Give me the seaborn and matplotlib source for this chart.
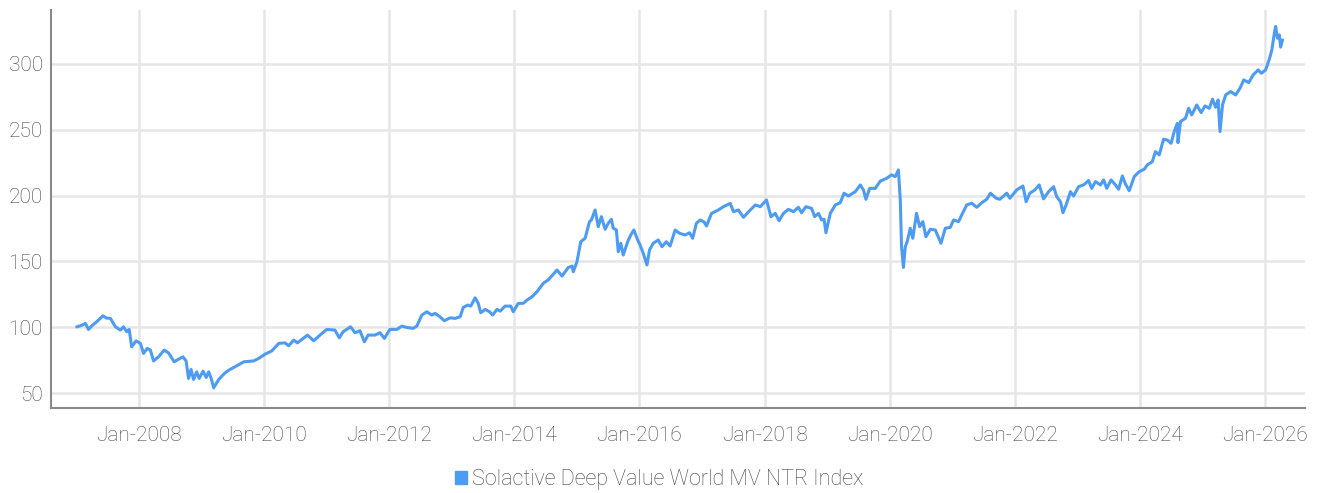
import pandas as pd
import matplotlib.pyplot as plt
import matplotlib.dates as mdates
from matplotlib.patches import Patch
import seaborn as sns

# Index level (decimal year, value)
years = [
    2007.00, 2007.08, 2007.14, 2007.19, 2007.25, 2007.32, 2007.42, 2007.48, 2007.54, 2007.62,
    2007.70, 2007.75, 2007.80, 2007.84, 2007.88, 2007.95, 2008.02, 2008.07, 2008.13, 2008.18,
    2008.23, 2008.31, 2008.40, 2008.47, 2008.56, 2008.63, 2008.70, 2008.75, 2008.79, 2008.83,
    2008.87, 2008.92, 2008.96, 2009.02, 2009.07, 2009.11, 2009.15, 2009.19, 2009.27, 2009.37,
    2009.45, 2009.51, 2009.67, 2009.83, 2009.91, 2010.01, 2010.12, 2010.23, 2010.33, 2010.39,
    2010.47, 2010.53, 2010.69, 2010.79, 2010.89, 2011.00, 2011.13, 2011.20, 2011.26, 2011.38,
    2011.45, 2011.53, 2011.60, 2011.66, 2011.77, 2011.85, 2011.92, 2012.01, 2012.12, 2012.20,
    2012.28, 2012.38, 2012.44, 2012.52, 2012.60, 2012.68, 2012.73, 2012.81, 2012.88, 2012.97,
    2013.05, 2013.13, 2013.18, 2013.25, 2013.30, 2013.37, 2013.42, 2013.46, 2013.53, 2013.60,
    2013.65, 2013.72, 2013.77, 2013.85, 2013.94, 2013.98, 2014.06, 2014.14, 2014.20, 2014.28,
    2014.36, 2014.46, 2014.54, 2014.68, 2014.76, 2014.86, 2014.92, 2014.94, 2015.00, 2015.06,
    2015.13, 2015.20, 2015.23, 2015.29, 2015.34, 2015.39, 2015.45, 2015.50, 2015.55, 2015.58,
    2015.63, 2015.66, 2015.70, 2015.74, 2015.81, 2015.86, 2015.91, 2015.97, 2016.01, 2016.06,
    2016.12, 2016.16, 2016.22, 2016.30, 2016.36, 2016.43, 2016.49, 2016.57, 2016.64, 2016.73,
    2016.80, 2016.85, 2016.91, 2016.97, 2017.03, 2017.07, 2017.15, 2017.26, 2017.34, 2017.45,
    2017.50, 2017.58, 2017.66, 2017.77, 2017.85, 2017.93, 2018.03, 2018.10, 2018.17, 2018.23,
    2018.30, 2018.38, 2018.46, 2018.54, 2018.59, 2018.66, 2018.75, 2018.80, 2018.86, 2018.91,
    2018.95, 2018.98, 2019.05, 2019.13, 2019.21, 2019.27, 2019.34, 2019.45, 2019.53, 2019.58,
    2019.62, 2019.68, 2019.77, 2019.85, 2019.95, 2020.03, 2020.09, 2020.14, 2020.17, 2020.19,
    2020.22, 2020.25, 2020.28, 2020.33, 2020.37, 2020.43, 2020.48, 2020.53, 2020.58, 2020.65,
    2020.73, 2020.82, 2020.89, 2020.97, 2021.02, 2021.10, 2021.15, 2021.23, 2021.31, 2021.39,
    2021.47, 2021.55, 2021.61, 2021.70, 2021.76, 2021.87, 2021.92, 2022.03, 2022.13, 2022.18,
    2022.24, 2022.32, 2022.39, 2022.46, 2022.54, 2022.62, 2022.67, 2022.73, 2022.77, 2022.82,
    2022.89, 2022.94, 2023.02, 2023.10, 2023.18, 2023.23, 2023.29, 2023.37, 2023.42, 2023.47,
    2023.54, 2023.61, 2023.66, 2023.72, 2023.77, 2023.83, 2023.91, 2023.99, 2024.07, 2024.12,
    2024.20, 2024.25, 2024.31, 2024.38, 2024.44, 2024.50, 2024.55, 2024.60, 2024.61, 2024.65,
    2024.73, 2024.78, 2024.83, 2024.91, 2024.98, 2025.04, 2025.11, 2025.16, 2025.21, 2025.25,
    2025.28, 2025.32, 2025.37, 2025.45, 2025.53, 2025.60, 2025.66, 2025.74, 2025.81, 2025.89,
    2025.94, 2026.01, 2026.07, 2026.11, 2026.15, 2026.17, 2026.20, 2026.23, 2026.25, 2026.28,
]
values = [
    100.3, 101.5, 103.0, 98.4, 101.5, 104.2, 108.7, 107.0, 106.8, 100.4,
    97.9, 100.4, 96.6, 98.4, 85.2, 89.7, 87.8, 80.2, 84.0, 82.7,
    74.5, 77.6, 82.7, 80.6, 73.8, 75.8, 77.6, 74.5, 61.2, 68.0,
    60.4, 66.2, 61.2, 66.7, 61.9, 66.2, 61.2, 54.1, 60.4, 65.4,
    68.0, 69.5, 73.8, 74.5, 76.4, 79.6, 82.1, 87.8, 88.2, 86.0,
    90.3, 88.2, 94.1, 89.8, 94.1, 98.4, 97.9, 92.0, 96.6, 100.4,
    95.9, 97.4, 89.0, 94.1, 94.1, 95.9, 91.6, 98.4, 98.4, 100.9,
    99.9, 99.2, 100.9, 109.3, 111.8, 109.3, 110.6, 108.0, 105.0, 107.2,
    106.8, 108.0, 115.1, 116.9, 116.1, 122.4, 118.2, 111.1, 113.6, 111.8,
    109.3, 113.6, 112.3, 116.1, 116.1, 111.8, 118.2, 118.2, 120.7, 123.2,
    127.0, 133.4, 136.0, 143.5, 138.9, 145.4, 146.5, 142.2, 149.8, 165.0,
    167.6, 180.2, 181.5, 189.1, 176.4, 184.0, 174.4, 179.0, 182.0, 175.2,
    173.9, 157.4, 163.8, 154.9, 165.0, 170.1, 173.9, 166.3, 162.5, 156.2,
    147.3, 158.7, 163.8, 166.3, 161.2, 165.0, 161.7, 173.9, 171.4, 170.1,
    171.8, 167.6, 179.0, 181.5, 180.0, 176.9, 186.5, 189.1, 191.6, 194.1,
    187.8, 189.1, 183.5, 189.1, 192.9, 191.6, 196.7, 184.0, 186.5, 180.9,
    186.5, 189.6, 187.8, 191.1, 187.0, 191.6, 190.3, 184.0, 186.5, 181.5,
    182.0, 171.8, 186.5, 192.9, 194.6, 201.8, 199.7, 203.0, 208.1, 204.3,
    197.2, 205.5, 205.5, 211.0, 213.1, 215.7, 214.4, 219.5, 196.7, 161.2,
    145.5, 161.2, 165.0, 175.2, 167.6, 186.5, 176.4, 180.2, 168.8, 174.4,
    173.9, 163.8, 175.2, 175.9, 181.5, 180.2, 185.3, 192.9, 194.2, 191.1,
    194.6, 197.2, 201.8, 198.0, 197.2, 201.8, 198.0, 204.3, 207.3, 195.4,
    201.8, 204.3, 208.1, 197.5, 203.0, 206.8, 199.2, 195.4, 187.0, 192.9,
    203.0, 199.7, 206.8, 208.1, 211.4, 205.5, 210.6, 208.1, 211.9, 205.5,
    211.9, 208.1, 204.8, 214.9, 208.8, 203.7, 214.4, 218.2, 220.0, 223.3,
    225.8, 233.4, 230.9, 242.8, 242.2, 239.7, 248.6, 254.9, 240.2, 256.2,
    258.7, 266.3, 261.2, 268.8, 263.0, 268.1, 266.3, 273.2, 267.1, 272.6,
    248.6, 268.8, 276.4, 279.0, 276.4, 281.5, 287.8, 285.8, 291.6, 295.4,
    292.9, 295.4, 303.6, 310.7, 323.3, 328.4, 319.5, 322.0, 312.7, 318.2,
]
tick_years = list(range(2008, 2027, 2))
y_ticks = [50, 100, 150, 200, 250, 300]
series_name = 'Solactive Deep Value World MV NTR Index'


def to_date(y):
    year = int(y)
    return pd.Timestamp(year, 1, 1) + pd.Timedelta(days=(y - year) * 365.25)


df = pd.DataFrame({'date': [to_date(y) for y in years], 'value': values})

sns.set_style('white')
plt.rcParams['font.family'] = ['Roboto', 'DejaVu Sans']
plt.rcParams['font.weight'] = 'light'

line_color = '#4d9bf3'
text_color = '#454545'

fig = plt.figure(figsize=(13.19, 4.93), dpi=100)
ax = fig.add_axes([0.0387, 0.172, 0.9507, 0.808])

sns.lineplot(data=df, x='date', y='value', ax=ax, color=line_color, linewidth=2.2)

ax.set_xlim(to_date(2006.59), to_date(2026.64))
ax.set_ylim(38.6, 341)
ax.set_xticks([pd.Timestamp(y, 1, 1) for y in tick_years])
ax.xaxis.set_major_formatter(mdates.DateFormatter('%b-%Y'))
ax.set_yticks(y_ticks)

ax.grid(True, color='#e6e6e6', linewidth=1.8)
ax.set_axisbelow(True)
ax.set_xlabel('')
ax.set_ylabel('')
for side in ['top', 'right']:
    ax.spines[side].set_visible(False)
for side in ['left', 'bottom']:
    ax.spines[side].set_color('#8a8a8a')
    ax.spines[side].set_linewidth(1.5)

ax.tick_params(axis='both', length=0, labelsize=15, colors=text_color)
ax.tick_params(axis='y', pad=6)
ax.tick_params(axis='x', pad=13)

fig.legend(handles=[Patch(color=line_color, label=series_name)],
           loc='center', bbox_to_anchor=(0.5, 0.028), frameon=False,
           fontsize=15.5, labelcolor=text_color,
           handlelength=0.55, handleheight=0.55, handletextpad=0.25)

plt.savefig('out.png', dpi=100)
